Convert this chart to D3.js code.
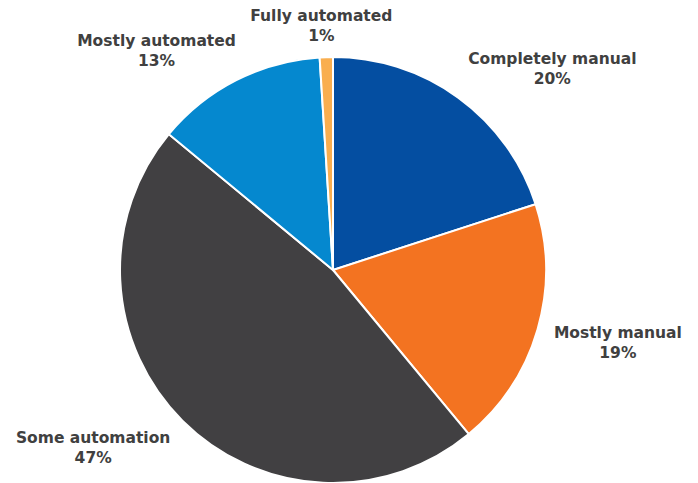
<!DOCTYPE html>
<html lang="en">
  <head>
    <meta charset="UTF-8" />
    <title>Automation pie</title>
    <script src="https://cdn.jsdelivr.net/npm/d3@7"></script>
    <style>
      body { margin: 0; background: #fff; }
      text {
        font-family: "DejaVu Sans", sans-serif;
        font-weight: bold;
        font-size: 15.5px;
        fill: #404040;
      }
    </style>
  </head>
  <body>
    <svg width="698" height="483"></svg>
    <script>
      const categories = ["Completely manual", "Mostly manual", "Some automation", "Mostly automated", "Fully automated"];
      const values = [20, 19, 47, 13, 1];
      const colors = ["#044ea1", "#f37321", "#414042", "#0588cf", "#f9ae4f"];

      const svg = d3.select("svg");
      const cx = 333, cy = 270, radius = 213;

      const data = categories.map((c, i) => ({ name: c, value: values[i], color: colors[i] }));
      const pie = d3.pie().sort(null).value((d) => d.value);
      const arc = d3.arc().innerRadius(0).outerRadius(radius);
      const arcs = pie(data);

      const g = svg.append("g").attr("transform", `translate(${cx},${cy})`);

      g.selectAll("path")
        .data(arcs)
        .enter()
        .append("path")
        .attr("d", arc)
        .attr("fill", (d) => d.data.color)
        .attr("stroke", "#fff")
        .attr("stroke-width", 2);

      // labels placed outside the slice, box corner touching the anchor point
      const padX = 17, padY = 12;
      const lineH = 20;
      const clamp = (v) => Math.max(-1, Math.min(1, v));
      const label = g.selectAll("g.label")
        .data(arcs)
        .enter()
        .append("g")
        .attr("class", "label");

      label.each(function (d) {
        const sel = d3.select(this);
        const t = sel.append("text").attr("text-anchor", "middle");
        t.append("tspan").attr("x", 0).attr("dy", 0).text(d.data.name);
        t.append("tspan").attr("x", 0).attr("dy", lineH).text(d.data.value + "%");
        const bb = t.node().getBBox();
        const a = (d.startAngle + d.endAngle) / 2;
        const px = Math.sin(a) * (radius + padX);
        const py = -Math.cos(a) * (radius + padY);
        const bx = px + (bb.width / 2) * clamp(Math.sin(a) * 2);
        const by = py - (bb.height / 2) * clamp(Math.cos(a) * 2);
        const ox = bx - (bb.x + bb.width / 2);
        const oy = by - (bb.y + bb.height / 2);
        sel.attr("transform", `translate(${ox},${oy})`);
      });
    </script>
  </body>
</html>
